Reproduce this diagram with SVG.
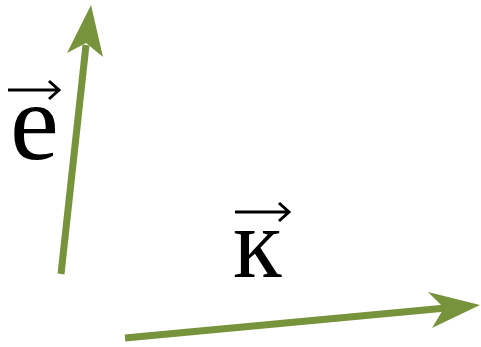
<svg xmlns="http://www.w3.org/2000/svg" width="481" height="347" viewBox="0 0 481 347">
<style>
.shaft{stroke:#77933c;stroke-width:7;fill:none}
.head{fill:#77933c}
.lbl{font-family:"Liberation Serif","Times New Roman",serif;fill:#000}
.vec{stroke:#000;stroke-width:3;fill:none}
</style>
<rect width="481" height="347" fill="#fff"/>
<g id="label-e">
<text class="lbl" x="10" y="159" font-size="110">e</text>
<path class="vec" d="M8,90 H58 M49,81 L59,90 L49,99"/>
</g>
<g id="label-k">
<text class="lbl" x="233" y="277" font-size="100">к</text>
<path class="vec" d="M235,212 H288 M279,203 L289,212 L279,221"/>
</g>
<g id="connectors">
<g id="arrow-e">
<line class="shaft" x1="61" y1="274" x2="86" y2="45"/>
<polygon class="head" points="91,5 67,53 86,43 103,57"/>
</g>
<g id="arrow-k">
<line class="shaft" x1="125" y1="338" x2="446" y2="308"/>
<polygon class="head" points="480,305 428,292 444,308 432,328"/>
</g>
</g>
</svg>
